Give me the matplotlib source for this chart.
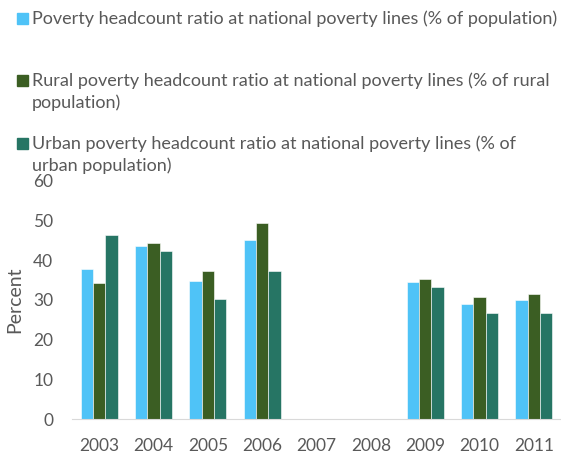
import matplotlib.pyplot as plt
import numpy as np
from matplotlib.patches import Rectangle

years = ['2003', '2004', '2005', '2006', '2007', '2008', '2009', '2010', '2011']
national = [37.8, 43.6, 34.9, 45.2, np.nan, np.nan, 34.5, 29.1, 30.0]
rural = [34.4, 44.4, 37.4, 49.4, np.nan, np.nan, 35.3, 30.7, 31.6]
urban = [46.5, 42.4, 30.3, 37.4, np.nan, np.nan, 33.2, 26.6, 26.6]

labels = [
    ['Poverty headcount ratio at national poverty lines (% of population)'],
    ['Rural poverty headcount ratio at national poverty lines (% of rural',
     'population)'],
    ['Urban poverty headcount ratio at national poverty lines (% of',
     'urban population)'],
]
colors = ['#4fc3f7', '#3b5e23', '#267564']
text_color = '#595959'

plt.rcParams['font.family'] = ['Lato', 'DejaVu Sans']

fig = plt.figure(figsize=(5.61, 4.55), dpi=100)
ax = fig.add_axes([72 / 561, 1 - 419 / 455, 489 / 561, 238 / 455])

x = np.arange(len(years))
w = 0.225
for i, (vals, c) in enumerate(zip([national, rural, urban], colors)):
    ax.bar(x + (i - 1) * w, vals, w, color=c, edgecolor='white', linewidth=0.4)

ax.set_xlim(-0.5, len(years) - 0.5)
ax.set_ylim(0, 60)
ax.set_yticks(range(0, 61, 10))
ax.set_xticks(x)
ax.set_xticklabels(years)
ax.tick_params(axis='both', length=0, labelsize=12.5, colors=text_color)
ax.tick_params(axis='x', pad=14)
ax.tick_params(axis='y', pad=13.5)
for s in ['top', 'right', 'left']:
    ax.spines[s].set_visible(False)
ax.spines['bottom'].set_color('#d9d9d9')
ax.set_ylabel('Percent', fontsize=14, color=text_color, labelpad=7)

# legend entries stacked above the plot, one baseline per line
baselines = [24, 86, 149]
for lines, c, yb in zip(labels, colors, baselines):
    fig.patches.append(Rectangle((17 / 561, 1 - yb / 455), 11 / 561, 11 / 455,
                                 transform=fig.transFigure, color=c))
    for k, line in enumerate(lines):
        fig.text(32 / 561, 1 - (yb + 22 * k) / 455, line, fontsize=13,
                 color=text_color, va='baseline', ha='left')

fig.savefig('out.png', dpi=100)
